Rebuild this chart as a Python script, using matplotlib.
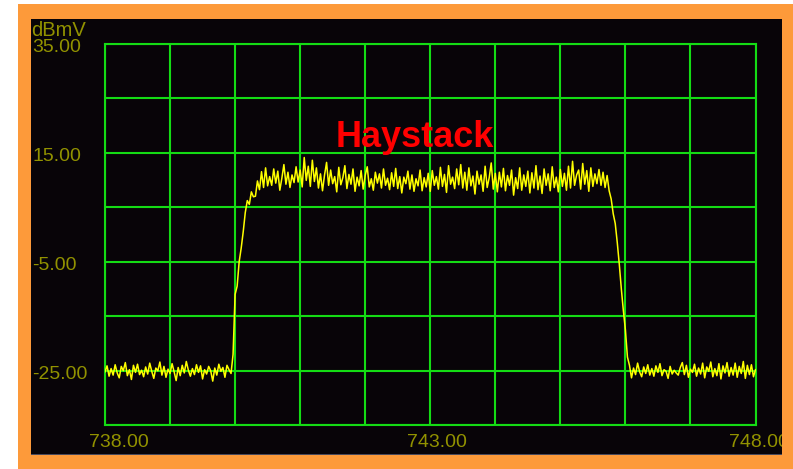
import numpy as np
import matplotlib.pyplot as plt
import matplotlib.transforms as mtransforms
from matplotlib.patches import Rectangle

# -----------------------
# Spectrum trace (dBmV), one value per 31.25 kHz bin from 738 to 748 MHz
# -----------------------
freq_start, freq_stop = 738.0, 748.0

floor_lo = [
    -25.2, -24.1, -26.0, -24.6, -25.8, -23.9, -25.4, -26.3, -24.2, -25.0,
    -23.5, -25.9, -24.8, -26.6, -24.0, -25.3, -23.8, -25.7, -24.9, -26.1,
    -24.3, -25.6, -23.6, -25.1, -26.4, -24.5, -25.0, -23.4, -25.8, -24.2,
    -26.2, -24.7, -25.5, -23.7, -25.2, -26.8, -24.4, -25.9, -24.0, -25.4,
    -23.3, -24.9, -26.0, -24.6, -25.7, -23.9, -25.3, -24.1, -26.5, -24.8,
    -25.6, -24.2, -25.0, -26.9, -24.5, -25.8, -23.8, -25.1, -24.4, -26.2,
    -24.0, -24.8, -25.5,
]
ramp_up = [-22.0, -11.0, -9.5, -5.0, -2.5, 0.5, 4.0, 6.2, 5.5, 7.8, 6.9]
plateau = [
    7.0, 9.8, 8.2, 11.5, 8.6, 12.2, 8.9, 10.6, 9.0, 12.0,
    9.4, 11.6, 8.1, 10.3, 12.8, 9.2, 11.4, 8.6, 10.9, 9.5,
    12.4, 9.6, 11.8, 8.7, 14.1, 9.9, 12.5, 8.8, 13.6, 9.7,
    12.2, 8.5, 11.1, 8.0, 10.9, 13.2, 9.0, 11.8, 9.3, 10.6,
    7.8, 12.3, 9.1, 10.4, 12.6, 8.4, 11.0, 9.2, 12.0, 7.9,
    10.5, 8.9, 11.7, 8.3, 10.8, 12.4, 8.7, 10.2, 8.1, 11.4,
    9.4, 11.1, 8.5, 12.0, 9.0, 10.3, 8.2, 11.3, 8.8, 12.1,
    8.4, 10.6, 7.6, 10.5, 9.3, 11.6, 8.3, 10.9, 7.9, 10.2,
    8.9, 11.8, 8.0, 10.4, 8.7, 11.2, 7.9, 11.7, 9.0, 10.6,
    8.3, 12.3, 8.8, 11.0, 7.7, 12.6, 9.2, 10.5, 8.4, 12.0,
    9.1, 12.8, 8.5, 11.4, 8.1, 12.2, 8.9, 10.7, 7.4, 11.6,
    9.2, 10.9, 7.9, 12.5, 8.6, 10.4, 13.1, 8.3, 11.2, 7.8,
    11.4, 8.7, 12.1, 8.0, 10.8, 9.0, 11.8, 7.2, 10.4, 8.4,
    12.2, 8.1, 10.9, 8.8, 11.6, 7.6, 11.3, 8.5, 12.6, 8.2,
    10.7, 7.5, 12.0, 9.0, 11.1, 8.0, 12.4, 8.6, 10.5, 7.8,
    11.9, 8.8, 11.2, 8.1, 12.5, 8.5, 13.4, 9.0, 10.9, 11.8,
    8.3, 13.0, 9.2, 11.7, 7.9, 12.2, 8.8, 11.1, 9.3, 11.9,
    9.0, 11.4, 8.6, 10.8,
]
ramp_down = [8.0, 6.5, 3.8, 2.0, -1.5, -5.5, -10.0, -14.0, -17.5, -22.5]
floor_hi = [
    -24.0, -26.3, -24.5, -25.7, -23.6, -25.2, -26.1, -24.3, -25.5, -23.9,
    -25.8, -24.6, -26.0, -24.1, -25.3, -23.7, -25.9, -24.8, -25.1, -26.4,
    -24.2, -25.6, -24.9, -25.4, -25.8, -24.4, -23.5, -25.7, -24.0, -26.2,
    -24.7, -25.3, -23.8, -26.0, -24.5, -25.6, -23.6, -26.3, -24.3, -25.1,
    -23.4, -26.1, -24.6, -25.9, -23.7, -26.5, -24.1, -25.4, -23.5, -26.0,
    -24.4, -25.8, -23.6, -26.2, -24.2, -25.5, -23.3, -26.4, -24.0, -25.7,
    -23.9, -26.1, -24.8,
]

y_ticks = [35, 15, -5, -25]
x_ticks = [738, 743, 748]
title_text = "Haystack"
unit_text = "dBmV"

level = np.array(floor_lo + ramp_up + plateau + ramp_down + floor_hi)
freq = np.linspace(freq_start, freq_stop, len(level))

# -----------------------
# Styling
# -----------------------
W, H = 793, 469
ORANGE = "#fd9a3a"
SCREEN = "#080408"
GRID = "#14dc14"
TRACE = "#ffff00"
LABEL = "#929200"
FONT = "Liberation Sans"


def px_rect(x0, y0, x1, y1):
    """Rectangle in figure fractions from pixel coords (origin top-left)."""
    return (x0 / W, 1 - y1 / H), (x1 - x0) / W, (y1 - y0) / H


fig = plt.figure(figsize=(W / 100, H / 100), dpi=100, facecolor="white")

xy, w, h = px_rect(18, 4, 793, 469)
fig.patches.append(Rectangle(xy, w, h, transform=fig.transFigure,
                             facecolor=ORANGE, edgecolor="none", zorder=-3))
xy, w, h = px_rect(31, 19, 782, 455)
fig.patches.append(Rectangle(xy, w, h, transform=fig.transFigure,
                             facecolor=SCREEN, edgecolor="none", zorder=-2))
xy, w, h = px_rect(31, 453.5, 782, 455)
fig.patches.append(Rectangle(xy, w, h, transform=fig.transFigure,
                             facecolor="#4a4a5c", edgecolor="none", zorder=-1))

ax = fig.add_axes([105 / W, 1 - 425.3 / H, (755.5 - 105) / W, (425.3 - 43.5) / H])
ax.set_facecolor(SCREEN)
ax.plot(freq, level, color=TRACE, lw=1.1, zorder=3)

ax.set_xlim(freq_start, freq_stop)
ax.set_ylim(-35, 35)
ax.set_xticks(np.arange(738, 749, 1))
ax.set_yticks(np.arange(-35, 36, 10))
ax.tick_params(length=0, labelbottom=False, labelleft=False)
ax.grid(True, color=GRID, lw=1.5, zorder=1)
ax.set_axisbelow(True)
for sp in ax.spines.values():
    sp.set_color(GRID)
    sp.set_linewidth(1.5)

ax.text(742.77, 16.1, title_text, color="#ff0000", fontsize=26,
        fontweight="bold", family=FONT, ha="center", va="baseline", zorder=4)

# Amplitude labels, left-aligned at the screen edge
ytr = mtransforms.blended_transform_factory(fig.transFigure, ax.transData)
for v in y_ticks:
    ax.text(32 / W, v - 1.52, f"{v:.2f}", transform=ytr, color=LABEL,
            fontsize=14, family=FONT, ha="left", va="baseline", clip_on=False)
ax.text(31 / W, 36.4, unit_text, transform=ytr, color=LABEL,
        fontsize=14.5, family=FONT, ha="left", va="baseline", clip_on=False)

# Frequency labels under the grid
xtr = mtransforms.blended_transform_factory(ax.transData, fig.transFigure)
x_offsets = [0.22, 0.1, 0.05]
for v, off in zip(x_ticks, x_offsets):
    ax.text(v + off, 1 - 447 / H, f"{v:.2f}", transform=xtr, color=LABEL,
            fontsize=14, family=FONT, ha="center", va="baseline", clip_on=False)

# Right border strip drawn over the clipped label
xy, w, h = px_rect(782, 4, 793, 469)
fig.patches.append(Rectangle(xy, w, h, transform=fig.transFigure,
                             facecolor=ORANGE, edgecolor="none", zorder=5))

fig.savefig("out.png", dpi=100, facecolor="white")
